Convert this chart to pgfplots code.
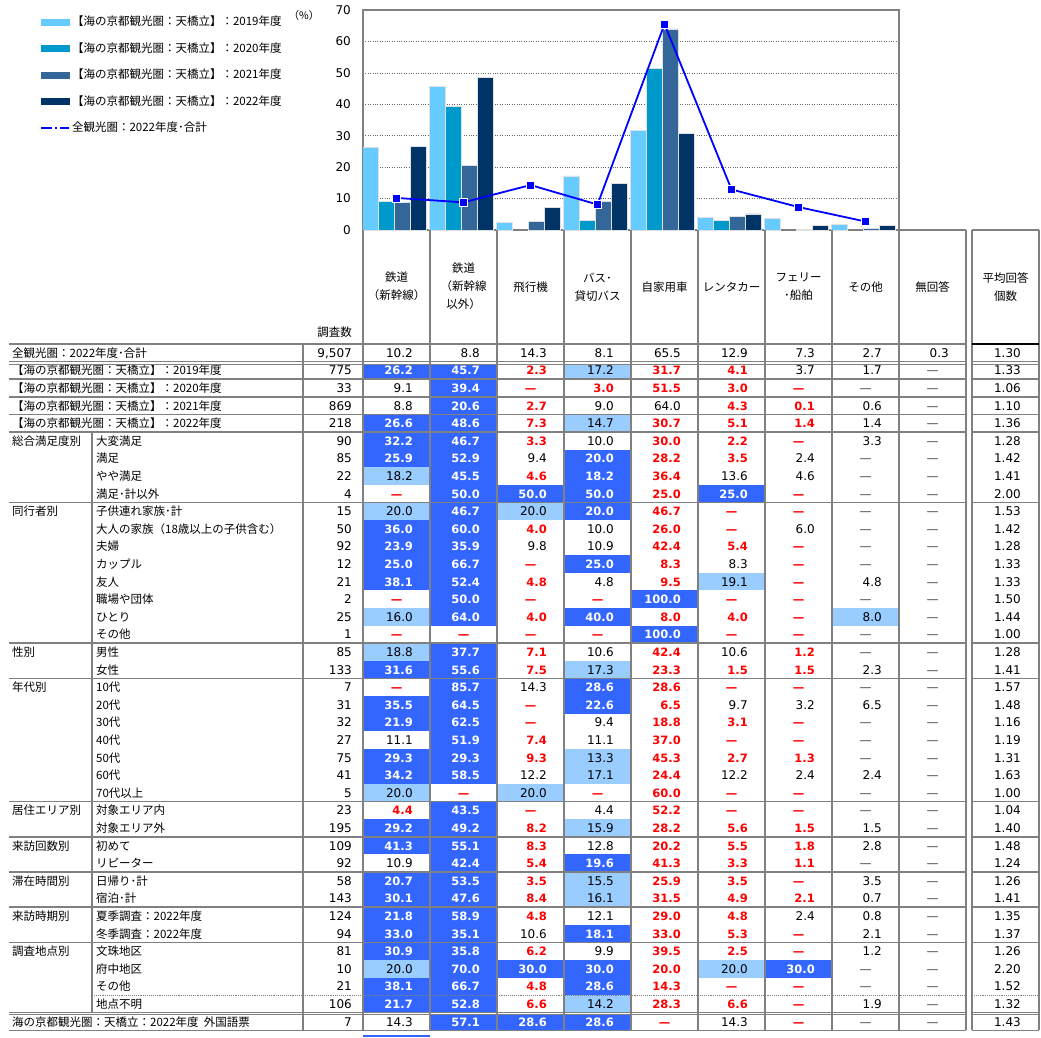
\documentclass[border=0pt]{standalone}
\usepackage{pgfplots}
\pgfplotsset{compat=1.18}
\usepackage{fontspec}
\setmainfont{Noto Sans CJK JP}
\newfontfamily\dv{DejaVu Sans}
\definecolor{c19}{HTML}{66CCFF}
\definecolor{c20}{HTML}{0099CC}
\definecolor{c21}{HTML}{336699}
\definecolor{c22}{HTML}{003366}
\definecolor{dk}{HTML}{3366FF}
\definecolor{lt}{HTML}{99CCFF}
\definecolor{ln}{HTML}{808080}
\definecolor{rd}{HTML}{FF0000}

\newcommand\fjp{\fontsize{11.5}{13}\selectfont}
\newcommand\fnum{\dv\fontsize{12}{14}\selectfont}
\newcommand\fnumb{\dv\bfseries\fontsize{11.5}{14}\selectfont}

% cell c (0..8), row r, value
\newcommand\cellbox[3]{\fill[#3] ({363+67*#1},{-344-17.6*#2}) rectangle ({430+67*#1},{-361.6-17.6*#2});}
\newcommand\cellnum[4]{\node[anchor=base east,inner sep=0pt,font=#4] at ({413+67*#1},{-357.2-17.6*#2}) {#3};}
\newcommand\celldash[3]{\node[anchor=base,inner sep=0pt,font=#3] at ({396.5+67*#1},{-357.2-17.6*#2}) {—};}
\newcommand\cellD[3]{\cellbox{#1}{#2}{dk}\cellnum{#1}{#2}{\textcolor{white}{#3}}{\fnumb}}
\newcommand\cellL[3]{\cellbox{#1}{#2}{lt}\cellnum{#1}{#2}{#3}{\fnum}}
\newcommand\cellR[3]{\cellnum{#1}{#2}{\textcolor{rd}{#3}}{\fnumb}}
\newcommand\cellN[3]{\cellnum{#1}{#2}{#3}{\fnum}}
\newcommand\cellX[3]{\celldash{#1}{#2}{\fnumb\color{rd}}}
\newcommand\cellZ[3]{\celldash{#1}{#2}{\fnum\color{black!75}}}

\newcommand\trow[4]{%
  \node[anchor=base east,inner sep=0pt,font=\fnum] at (352,{-357.2-17.6*#1}) {#2};
  \node[anchor=base east,inner sep=0pt,font=\fnum] at (1021,{-357.2-17.6*#1}) {#4};
  \foreach \v/\s [count=\c from 0] in {#3} {\csname cell\s\endcsname{\c}{#1}{\v}}}
\newcommand\lab[3]{\node[anchor=base west,inner sep=0pt,font=\fjp] at (#1,{-357.2-17.6*#2}) {#3};}

\begin{document}
\begin{tikzpicture}
\useasboundingbox (0pt,0pt) rectangle (1041pt,-1037pt);

\begin{axis}[
  at={(363pt,-230pt)}, anchor=south west,
  width=536pt, height=220pt, scale only axis,
  xmin=-0.5, xmax=7.5, ymin=0, ymax=70,
  xtick=\empty, ytick={0,10,...,70},
  ymajorgrids, grid style={dotted, black!60, line width=0.7pt},
  axis line style={ln, line width=1.5pt},
  tick style={draw=none},
  /pgf/number format/assume math mode=true,
  yticklabel style={font=\dv\fontsize{12}{14}\selectfont, inner sep=0pt, xshift=-12pt},
  legend style={at={(axis description cs:-0.6026,0.9716)}, anchor=north west,
    draw=none, fill=none, inner sep=0pt, row sep=15pt, column sep=2pt,
    font=\fjp, nodes={inner sep=0pt, text height=9.5pt, text depth=2pt}},
  legend cell align=left,
]
\addplot[ybar, bar width=15.5pt, bar shift=-26pt, fill=c19, draw=black!12, line width=0.7pt,
  legend image code/.code={\fill[c19] (0pt,-3pt) rectangle (28pt,3pt);}]
  coordinates {(0,26.2) (1,45.7) (2,2.3) (3,17.2) (4,31.7) (5,4.1) (6,3.7) (7,1.7)};
\addlegendentry{【海の京都観光圏：天橋立】：2019年度}
\addplot[ybar, bar width=15.5pt, bar shift=-10pt, fill=c20, draw=black!12, line width=0.7pt,
  legend image code/.code={\fill[c20] (0pt,-3pt) rectangle (28pt,3pt);}]
  coordinates {(0,9.1) (1,39.4) (3,3.0) (4,51.5) (5,3.0)};
\addlegendentry{【海の京都観光圏：天橋立】：2020年度}
\addplot[ybar, bar width=15.5pt, bar shift=6pt, fill=c21, draw=black!12, line width=0.7pt,
  legend image code/.code={\fill[c21] (0pt,-3pt) rectangle (28pt,3pt);}]
  coordinates {(0,8.8) (1,20.6) (2,2.7) (3,9.0) (4,64.0) (5,4.3) (6,0.1) (7,0.6)};
\addlegendentry{【海の京都観光圏：天橋立】：2021年度}
\addplot[ybar, bar width=15.5pt, bar shift=22pt, fill=c22, draw=black!12, line width=0.7pt,
  legend image code/.code={\fill[c22] (0pt,-3pt) rectangle (28pt,3pt);}]
  coordinates {(0,26.6) (1,48.6) (2,7.3) (3,14.7) (4,30.7) (5,5.1) (6,1.4) (7,1.4)};
\addlegendentry{【海の京都観光圏：天橋立】：2022年度}
\addplot[blue, line width=1.8pt, mark=square*, mark size=4pt,
  mark options={fill=blue, draw=white, line width=0.8pt, solid},
  legend image code/.code={\draw[blue, line width=1.8pt, dash pattern=on 11pt off 3pt on 2pt off 3pt] (0pt,0pt) -- (28pt,0pt);}]
  coordinates {(0,10.2) (1,8.8) (2,14.3) (3,8.1) (4,65.5) (5,12.9) (6,7.3) (7,2.7)};
\addlegendentry{全観光圏：2022年度･合計}
\end{axis}

\begin{scope}[x=1pt,y=1pt]
\node[font=\fontsize{10.5}{12}\selectfont,inner sep=0pt] at (304,-16) {（\%）};

% header
\begin{scope}[every node/.style={align=center,inner sep=0pt,font=\fontsize{11.5}{18}\selectfont}]
\node at (396.5,-286) {鉄道\\（新幹線）};
\node at (463.5,-286) {鉄道\\（新幹線\\以外）};
\node at (530.5,-287) {飛行機};
\node at (597.5,-287) {バス･\\貸切バス};
\node at (664.5,-287) {自家用車};
\node at (731.5,-287) {レンタカー};
\node at (798.5,-287) {フェリー\\･船舶};
\node at (865.5,-287) {その他};
\node at (932.5,-287) {無回答};
\node at (1005.5,-287) {平均回答\\個数};
\node[anchor=base east] at (352,-336.4) {調査数};
\end{scope}

% rows
\trow{0}{9,507}{10.2/N,8.8/N,14.3/N,8.1/N,65.5/N,12.9/N,7.3/N,2.7/N,0.3/N}{1.30}
\trow{1}{775}{26.2/D,45.7/D,2.3/R,17.2/L,31.7/R,4.1/R,3.7/N,1.7/N,-/Z}{1.33}
\trow{2}{33}{9.1/N,39.4/D,-/X,3.0/R,51.5/R,3.0/R,-/X,-/Z,-/Z}{1.06}
\trow{3}{869}{8.8/N,20.6/D,2.7/R,9.0/N,64.0/N,4.3/R,0.1/R,0.6/N,-/Z}{1.10}
\trow{4}{218}{26.6/D,48.6/D,7.3/R,14.7/L,30.7/R,5.1/R,1.4/R,1.4/N,-/Z}{1.36}
\trow{5}{90}{32.2/D,46.7/D,3.3/R,10.0/N,30.0/R,2.2/R,-/X,3.3/N,-/Z}{1.28}
\trow{6}{85}{25.9/D,52.9/D,9.4/N,20.0/D,28.2/R,3.5/R,2.4/N,-/Z,-/Z}{1.42}
\trow{7}{22}{18.2/L,45.5/D,4.6/R,18.2/D,36.4/R,13.6/N,4.6/N,-/Z,-/Z}{1.41}
\trow{8}{4}{-/X,50.0/D,50.0/D,50.0/D,25.0/R,25.0/D,-/X,-/Z,-/Z}{2.00}
\trow{9}{15}{20.0/L,46.7/D,20.0/L,20.0/D,46.7/R,-/X,-/X,-/Z,-/Z}{1.53}
\trow{10}{50}{36.0/D,60.0/D,4.0/R,10.0/N,26.0/R,-/X,6.0/N,-/Z,-/Z}{1.42}
\trow{11}{92}{23.9/D,35.9/D,9.8/N,10.9/N,42.4/R,5.4/R,-/X,-/Z,-/Z}{1.28}
\trow{12}{12}{25.0/D,66.7/D,-/X,25.0/D,8.3/R,8.3/N,-/X,-/Z,-/Z}{1.33}
\trow{13}{21}{38.1/D,52.4/D,4.8/R,4.8/N,9.5/R,19.1/L,-/X,4.8/N,-/Z}{1.33}
\trow{14}{2}{-/X,50.0/D,-/X,-/X,100.0/D,-/X,-/X,-/Z,-/Z}{1.50}
\trow{15}{25}{16.0/L,64.0/D,4.0/R,40.0/D,8.0/R,4.0/R,-/X,8.0/L,-/Z}{1.44}
\trow{16}{1}{-/X,-/X,-/X,-/X,100.0/D,-/X,-/X,-/Z,-/Z}{1.00}
\trow{17}{85}{18.8/L,37.7/D,7.1/R,10.6/N,42.4/R,10.6/N,1.2/R,-/Z,-/Z}{1.28}
\trow{18}{133}{31.6/D,55.6/D,7.5/R,17.3/L,23.3/R,1.5/R,1.5/R,2.3/N,-/Z}{1.41}
\trow{19}{7}{-/X,85.7/D,14.3/N,28.6/D,28.6/R,-/X,-/X,-/Z,-/Z}{1.57}
\trow{20}{31}{35.5/D,64.5/D,-/X,22.6/D,6.5/R,9.7/N,3.2/N,6.5/N,-/Z}{1.48}
\trow{21}{32}{21.9/D,62.5/D,-/X,9.4/N,18.8/R,3.1/R,-/X,-/Z,-/Z}{1.16}
\trow{22}{27}{11.1/N,51.9/D,7.4/R,11.1/N,37.0/R,-/X,-/X,-/Z,-/Z}{1.19}
\trow{23}{75}{29.3/D,29.3/D,9.3/R,13.3/L,45.3/R,2.7/R,1.3/R,-/Z,-/Z}{1.31}
\trow{24}{41}{34.2/D,58.5/D,12.2/N,17.1/L,24.4/R,12.2/N,2.4/N,2.4/N,-/Z}{1.63}
\trow{25}{5}{20.0/L,-/X,20.0/L,-/X,60.0/R,-/X,-/X,-/Z,-/Z}{1.00}
\trow{26}{23}{4.4/R,43.5/D,-/X,4.4/N,52.2/R,-/X,-/X,-/Z,-/Z}{1.04}
\trow{27}{195}{29.2/D,49.2/D,8.2/R,15.9/L,28.2/R,5.6/R,1.5/R,1.5/N,-/Z}{1.40}
\trow{28}{109}{41.3/D,55.1/D,8.3/R,12.8/N,20.2/R,5.5/R,1.8/R,2.8/N,-/Z}{1.48}
\trow{29}{92}{10.9/N,42.4/D,5.4/R,19.6/D,41.3/R,3.3/R,1.1/R,-/Z,-/Z}{1.24}
\trow{30}{58}{20.7/D,53.5/D,3.5/R,15.5/L,25.9/R,3.5/R,-/X,3.5/N,-/Z}{1.26}
\trow{31}{143}{30.1/D,47.6/D,8.4/R,16.1/L,31.5/R,4.9/R,2.1/R,0.7/N,-/Z}{1.41}
\trow{32}{124}{21.8/D,58.9/D,4.8/R,12.1/N,29.0/R,4.8/R,2.4/N,0.8/N,-/Z}{1.35}
\trow{33}{94}{33.0/D,35.1/D,10.6/N,18.1/D,33.0/R,5.3/R,-/X,2.1/N,-/Z}{1.37}
\trow{34}{81}{30.9/D,35.8/D,6.2/R,9.9/N,39.5/R,2.5/R,-/X,1.2/N,-/Z}{1.26}
\trow{35}{10}{20.0/L,70.0/D,30.0/D,30.0/D,20.0/R,20.0/L,30.0/D,-/Z,-/Z}{2.20}
\trow{36}{21}{38.1/D,66.7/D,4.8/R,28.6/D,14.3/R,-/X,-/X,-/Z,-/Z}{1.52}
\trow{37}{106}{21.7/D,52.8/D,6.6/R,14.2/L,28.3/R,6.6/R,-/X,1.9/N,-/Z}{1.32}
\trow{38}{7}{14.3/N,57.1/D,28.6/D,28.6/D,-/X,14.3/N,-/X,-/Z,-/Z}{1.43}

% row labels
\lab{12}{0}{全観光圏：2022年度･合計}
\lab{12}{1}{【海の京都観光圏：天橋立】：2019年度}
\lab{12}{2}{【海の京都観光圏：天橋立】：2020年度}
\lab{12}{3}{【海の京都観光圏：天橋立】：2021年度}
\lab{12}{4}{【海の京都観光圏：天橋立】：2022年度}
\lab{12}{38}{海の京都観光圏：天橋立：2022年度\hspace{0.45em}外国語票}
\foreach \r/\t in {5/総合満足度別,9/同行者別,17/性別,19/年代別,26/居住エリア別,28/来訪回数別,30/滞在時間別,32/来訪時期別,34/調査地点別}
  {\lab{12}{\r}{\t}}
\foreach \r/\t in {5/大変満足,6/満足,7/やや満足,8/満足･計以外,9/子供連れ家族･計,10/大人の家族（18歳以上の子供含む）,11/夫婦,12/カップル,13/友人,14/職場や団体,15/ひとり,16/その他,17/男性,18/女性,19/10代,20/20代,21/30代,22/40代,23/50代,24/60代,25/70代以上,26/対象エリア内,27/対象エリア外,28/初めて,29/リピーター,30/日帰り･計,31/宿泊･計,32/夏季調査：2022年度,33/冬季調査：2022年度,34/文珠地区,35/府中地区,36/その他,37/地点不明}
  {\lab{96}{\r}{\t}}

% grid lines
\begin{scope}[ln, line width=1.5pt]
\foreach \r in {0,2,3,4,5,9,17,19,26,28,30,32,34,39} {
  \draw (9,{-344-17.6*\r}) -- (966,{-344-17.6*\r});
  \draw (972,{-344-17.6*\r}) -- (1039,{-344-17.6*\r});}
\foreach \y in {363.1,1013.3} {
  \draw[line width=0.9pt, double=white, double distance=1.5pt] (9,-\y) -- (966,-\y);
  \draw[line width=0.9pt, double=white, double distance=1.5pt] (972,-\y) -- (1039,-\y);}
\draw[line width=0.9pt, densely dotted] (92,-995.2) -- (966,-995.2) (972,-995.2) -- (1039,-995.2);
\foreach \x in {363,430,...,966} \draw (\x,-230) -- (\x,-1030.4);
\draw (972,-230) -- (972,-1030.4) (1039,-230) -- (1039,-1030.4);
\draw (303,-344) -- (303,-1030.4);
\draw (92,-432) -- (92,-1012.8);
\draw (899,-230) -- (966,-230) (972,-230) -- (1039,-230);
\end{scope}
\draw[black, line width=2pt] (972,-344) -- (1039,-344);
\draw[dk, line width=2pt] (363,-1036) -- (430,-1036);
\end{scope}
\end{tikzpicture}
\end{document}
